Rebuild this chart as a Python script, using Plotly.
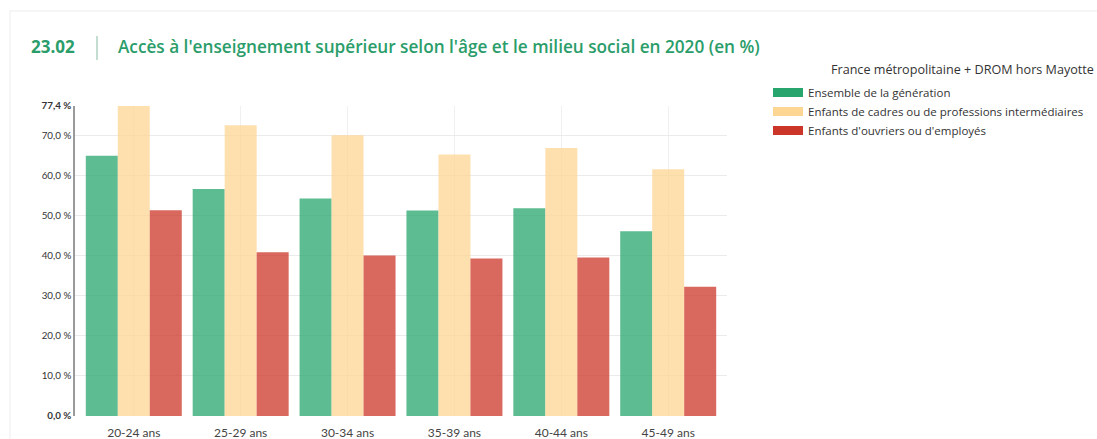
import plotly.graph_objects as go

# Age groups and access rates (%)
categories = ["20-24 ans", "25-29 ans", "30-34 ans", "35-39 ans", "40-44 ans", "45-49 ans"]
ensemble = [65.0, 56.7, 54.3, 51.3, 51.9, 46.1]
cadres = [77.4, 72.6, 70.1, 65.3, 66.9, 61.6]
ouvriers = [51.4, 40.9, 40.1, 39.3, 39.6, 32.3]

series_names = [
    "Ensemble de la génération",
    "Enfants de cadres ou de professions intermédiaires",
    "Enfants d'ouvriers ou d'employés",
]
tick_values = [0, 10, 20, 30, 40, 50, 60, 70, 77.4]
tick_labels = ["<b>0,0 %</b>", "10,0 %", "20,0 %", "30,0 %", "40,0 %",
               "50,0 %", "60,0 %", "70,0 %", "<b>77,4 %</b>"]

solid = ["#27a56c", "#fdd694", "#cc3628"]

W, H = 1097, 439
L, R, T, B = 75, 370, 106, 23
PW, PH = W - L - R, H - T - B


def px_x(x):
    return (x - L) / PW


def px_y(y):
    return (H - B - y) / PH


fig = go.Figure()
for name, vals, col in zip(series_names, [ensemble, cadres, ouvriers], solid):
    fig.add_trace(go.Bar(
        x=categories, y=vals, name=name, showlegend=False,
        marker=dict(color=col, opacity=0.75, line=dict(width=0)),
    ))
# legend keys in full colour
for name, col in zip(series_names, solid):
    fig.add_trace(go.Scatter(
        x=[None], y=[None], mode="lines", name=name,
        line=dict(color=col, width=9),
    ))

# faint card outline
fig.add_shape(
    type="rect", xref="paper", yref="paper", layer="below",
    x0=px_x(10), x1=px_x(1200), y0=px_y(11), y1=px_y(500),
    line=dict(color="#f3f3f3", width=1.5), fillcolor="rgba(0,0,0,0)",
)

green = "#2a9d6a"
fig.add_annotation(
    xref="paper", yref="paper", x=px_x(29), y=px_y(47),
    xanchor="left", yanchor="middle", showarrow=False,
    text="<b>23.02</b>", font=dict(family="Open Sans", size=17, color=green),
)
fig.add_shape(
    type="line", xref="paper", yref="paper",
    x0=px_x(97), x1=px_x(97), y0=px_y(36), y1=px_y(60),
    line=dict(color="#9cc9b2", width=1.2),
)
fig.add_annotation(
    xref="paper", yref="paper", x=px_x(116), y=px_y(47),
    xanchor="left", yanchor="middle", showarrow=False,
    text="Accès à l'enseignement supérieur selon l'âge et le milieu social en 2020 (en %)",
    font=dict(family="Open Sans", size=17.2, color=green, weight=600),
)
fig.add_annotation(
    xref="paper", yref="paper", x=px_x(829), y=px_y(69),
    xanchor="left", yanchor="middle", showarrow=False,
    text="France métropolitaine + DROM hors Mayotte",
    font=dict(family="Open Sans", size=12.6, color="#333333"),
)

fig.update_layout(
    width=W, height=H,
    margin=dict(l=L, r=R, t=T, b=B, autoexpand=False),
    paper_bgcolor="white", plot_bgcolor="white",
    barmode="group", bargap=0.102, bargroupgap=0,
    font=dict(family="Lato", color="#333333"),
    legend=dict(
        x=px_x(768), y=px_y(78), xanchor="left", yanchor="top",
        font=dict(family="Open Sans", size=11.5, color="#333333"),
        tracegroupgap=0, itemwidth=30,
    ),
    xaxis=dict(
        range=[-0.55, 5.55],
        showgrid=True, gridcolor="#f0f0f0", gridwidth=1,
        showline=False, zeroline=False, ticks="",
        ticklabelstandoff=8,
        tickfont=dict(size=12, color="#444444"),
    ),
    yaxis=dict(
        range=[0, 77.4], tickvals=tick_values, ticktext=tick_labels,
        showgrid=True, gridcolor="#ebebeb", gridwidth=1,
        showline=True, linecolor="#9a9a9a", linewidth=1.5,
        zeroline=False, ticks="",
        tickfont=dict(size=9.8, color="#333333"),
    ),
)

fig.write_html("out.html")
